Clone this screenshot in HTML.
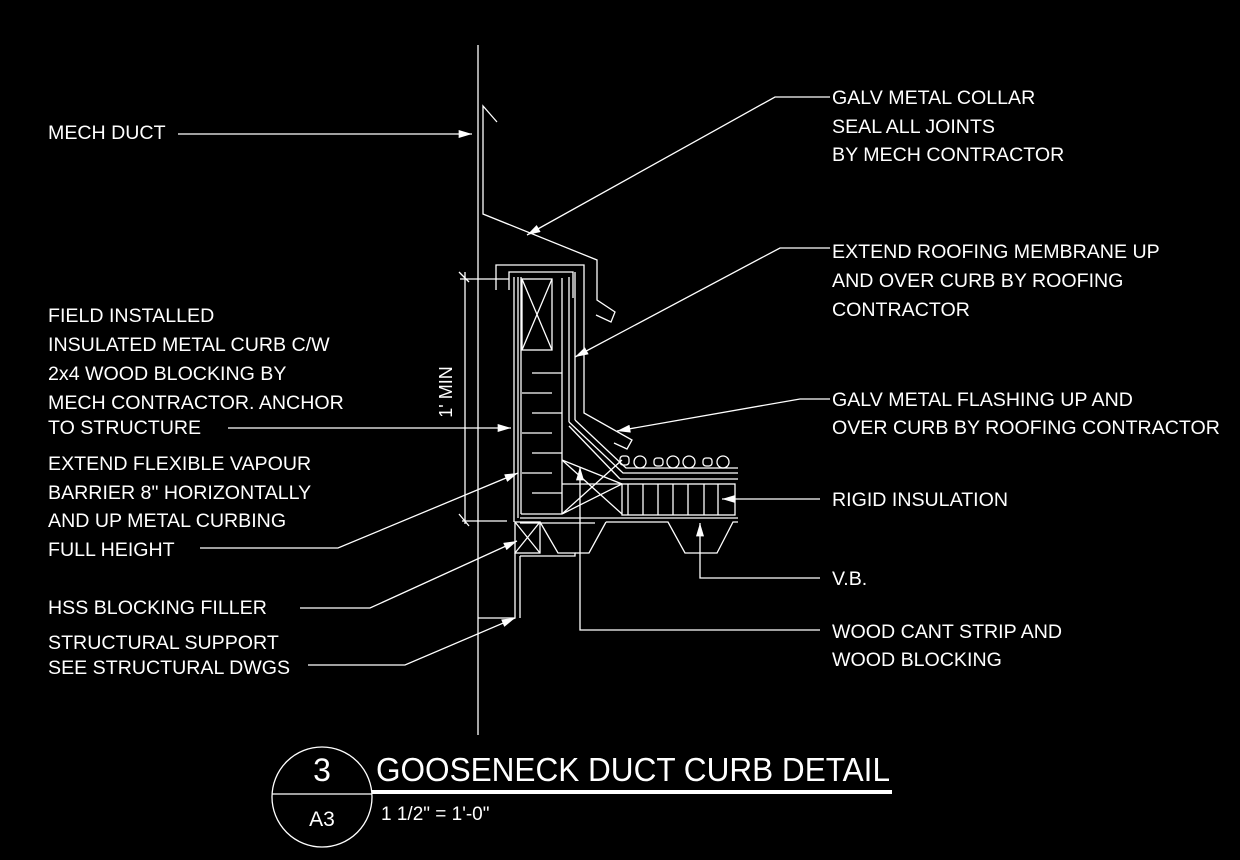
<!DOCTYPE html>
<html><head><style>
html,body{margin:0;padding:0;background:#000;}
svg{display:block}
text{font-family:"Liberation Sans",sans-serif;fill:#fff;font-size:19.6px}
</style></head><body>
<svg width="1240" height="860" viewBox="0 0 1240 860" xmlns="http://www.w3.org/2000/svg">
<defs>
<marker id="a" viewBox="0 0 10 6" refX="10" refY="3" markerWidth="16" markerHeight="8" markerUnits="userSpaceOnUse" orient="auto"><path d="M0,0 L10,3 L0,6 Z" fill="#fff"/></marker>
</defs>
<g stroke="#fff" stroke-width="1.3" fill="none">
<line x1="478" y1="45" x2="478" y2="735"/>
<polyline points="497,122 483,106 483,214 597,260 597,300 615,312 611,322 596,315"/>
<polyline points="496,290 496,265 584,265 584,413 632,440 627,449 614,443"/>
<polyline points="509,290 509,272 573,272 573,298"/>
<line x1="575" y1="272" x2="575" y2="420"/>
<line x1="569" y1="277" x2="569" y2="422"/>
<polyline points="575,420 626,468 738,468"/>
<polyline points="569,422 623,473 738,473"/>
<line x1="569" y1="426" x2="620" y2="479"/>
<line x1="620" y1="479" x2="738" y2="479"/>
<line x1="514" y1="277" x2="514" y2="522"/>
<line x1="518" y1="277" x2="518" y2="518"/>
<line x1="521" y1="277" x2="521" y2="514"/>
<line x1="562" y1="278" x2="562" y2="514"/>
<line x1="521" y1="514" x2="562" y2="514"/>
<rect x="522" y="279" width="30" height="71"/>
<polyline points="522,279 552,350"/><polyline points="552,279 522,350"/>
<line x1="532" y1="373" x2="562" y2="373"/>
<line x1="522" y1="393" x2="552" y2="393"/>
<line x1="532" y1="413" x2="562" y2="413"/>
<line x1="522" y1="433" x2="552" y2="433"/>
<line x1="532" y1="453" x2="562" y2="453"/>
<line x1="522" y1="473" x2="552" y2="473"/>
<line x1="532" y1="493" x2="562" y2="493"/>
<polyline points="562,460 622,484 562,514"/>
<line x1="562" y1="484" x2="622" y2="484"/>
<line x1="562" y1="460" x2="622" y2="514"/>
<line x1="562" y1="514" x2="622" y2="460"/>
<rect x="622" y="484" width="113" height="31"/>
<g>
<line x1="628" y1="484" x2="628" y2="515"/><line x1="643" y1="484" x2="643" y2="515"/><line x1="658" y1="484" x2="658" y2="515"/><line x1="673" y1="484" x2="673" y2="515"/><line x1="688" y1="484" x2="688" y2="515"/><line x1="704" y1="484" x2="704" y2="515"/><line x1="718" y1="484" x2="718" y2="515"/>
</g>
<line x1="520" y1="518" x2="738" y2="518"/>
<line x1="520" y1="523" x2="595" y2="523"/>
<polyline points="606,522 668,522 685,553 717,553 733,522 738,522"/>
<polyline points="606,522 589,553 575,553"/>
<rect x="515" y="522" width="25" height="31"/>
<line x1="515" y1="522" x2="540" y2="553"/><line x1="540" y1="522" x2="515" y2="553"/>
<polyline points="540,522 558,553 575,553 575,556 520,556"/>
<polyline points="515,553 515,618 478,618"/>
<polyline points="520,556 520,618"/>
<rect x="620" y="456" width="9" height="9" rx="3"/>
<circle cx="640" cy="462" r="6"/>
<rect x="654" y="458" width="9" height="8" rx="3"/>
<circle cx="673" cy="462" r="6"/>
<circle cx="689" cy="462" r="6"/>
<rect x="703" y="458" width="9" height="8" rx="3"/>
<circle cx="723" cy="462" r="6"/>
<line x1="465" y1="272" x2="465" y2="524"/>
<line x1="459" y1="272" x2="469" y2="282"/>
<line x1="459" y1="514" x2="469" y2="526"/>
<line x1="460" y1="279" x2="509" y2="279"/>
<line x1="462" y1="521" x2="507" y2="521"/>
<line x1="178" y1="134" x2="472" y2="134" marker-end="url(#a)"/>
<polyline points="830,97 775,97 527,235" marker-end="url(#a)"/>
<polyline points="830,248 780,248 575,357" marker-end="url(#a)"/>
<polyline points="830,399 800,399 617,431" marker-end="url(#a)"/>
<line x1="820" y1="499" x2="722" y2="499" marker-end="url(#a)"/>
<polyline points="820,578 700,578 700,523" marker-end="url(#a)"/>
<polyline points="820,630 580,630 580,467" marker-end="url(#a)"/>
<line x1="228" y1="428" x2="511" y2="428" marker-end="url(#a)"/>
<polyline points="200,548 338,548 518,473" marker-end="url(#a)"/>
<polyline points="300,608 370,608 517,541" marker-end="url(#a)"/>
<polyline points="308,665 405,665 515,618" marker-end="url(#a)"/>
<circle cx="322" cy="797" r="50"/>
<line x1="272" y1="794" x2="372" y2="794"/>
</g>
<rect x="372" y="790" width="520" height="4" fill="#fff"/>
<text x="452" y="392" transform="rotate(-90 452 392)" text-anchor="middle" style="font-size:18px">1' MIN</text>
<text x="48" y="139">MECH DUCT</text>
<text x="832" y="104">GALV METAL COLLAR</text>
<text x="832" y="133">SEAL ALL JOINTS</text>
<text x="832" y="161">BY MECH CONTRACTOR</text>
<text x="832" y="258">EXTEND ROOFING MEMBRANE UP</text>
<text x="832" y="287">AND OVER CURB BY ROOFING</text>
<text x="832" y="316">CONTRACTOR</text>
<text x="832" y="406">GALV METAL FLASHING UP AND</text>
<text x="832" y="434">OVER CURB BY ROOFING CONTRACTOR</text>
<text x="832" y="506">RIGID INSULATION</text>
<text x="832" y="585">V.B.</text>
<text x="832" y="638">WOOD CANT STRIP AND</text>
<text x="832" y="666">WOOD BLOCKING</text>
<text x="48" y="322">FIELD INSTALLED</text>
<text x="48" y="351">INSULATED METAL CURB C/W</text>
<text x="48" y="380">2x4 WOOD BLOCKING BY</text>
<text x="48" y="409">MECH CONTRACTOR. ANCHOR</text>
<text x="48" y="434">TO STRUCTURE</text>
<text x="48" y="470">EXTEND FLEXIBLE VAPOUR</text>
<text x="48" y="499">BARRIER 8" HORIZONTALLY</text>
<text x="48" y="527">AND UP METAL CURBING</text>
<text x="48" y="556">FULL HEIGHT</text>
<text x="48" y="614">HSS BLOCKING FILLER</text>
<text x="48" y="649">STRUCTURAL SUPPORT</text>
<text x="48" y="674">SEE STRUCTURAL DWGS</text>
<text x="322" y="781" text-anchor="middle" style="font-size:32px">3</text>
<text x="322" y="826" text-anchor="middle" style="font-size:21px">A3</text>
<text x="376" y="781" style="font-size:33px" textLength="514" lengthAdjust="spacingAndGlyphs">GOOSENECK DUCT CURB DETAIL</text>
<text x="381" y="820" style="font-size:19px">1 1/2" = 1'-0"</text>
</svg>
</body></html>
